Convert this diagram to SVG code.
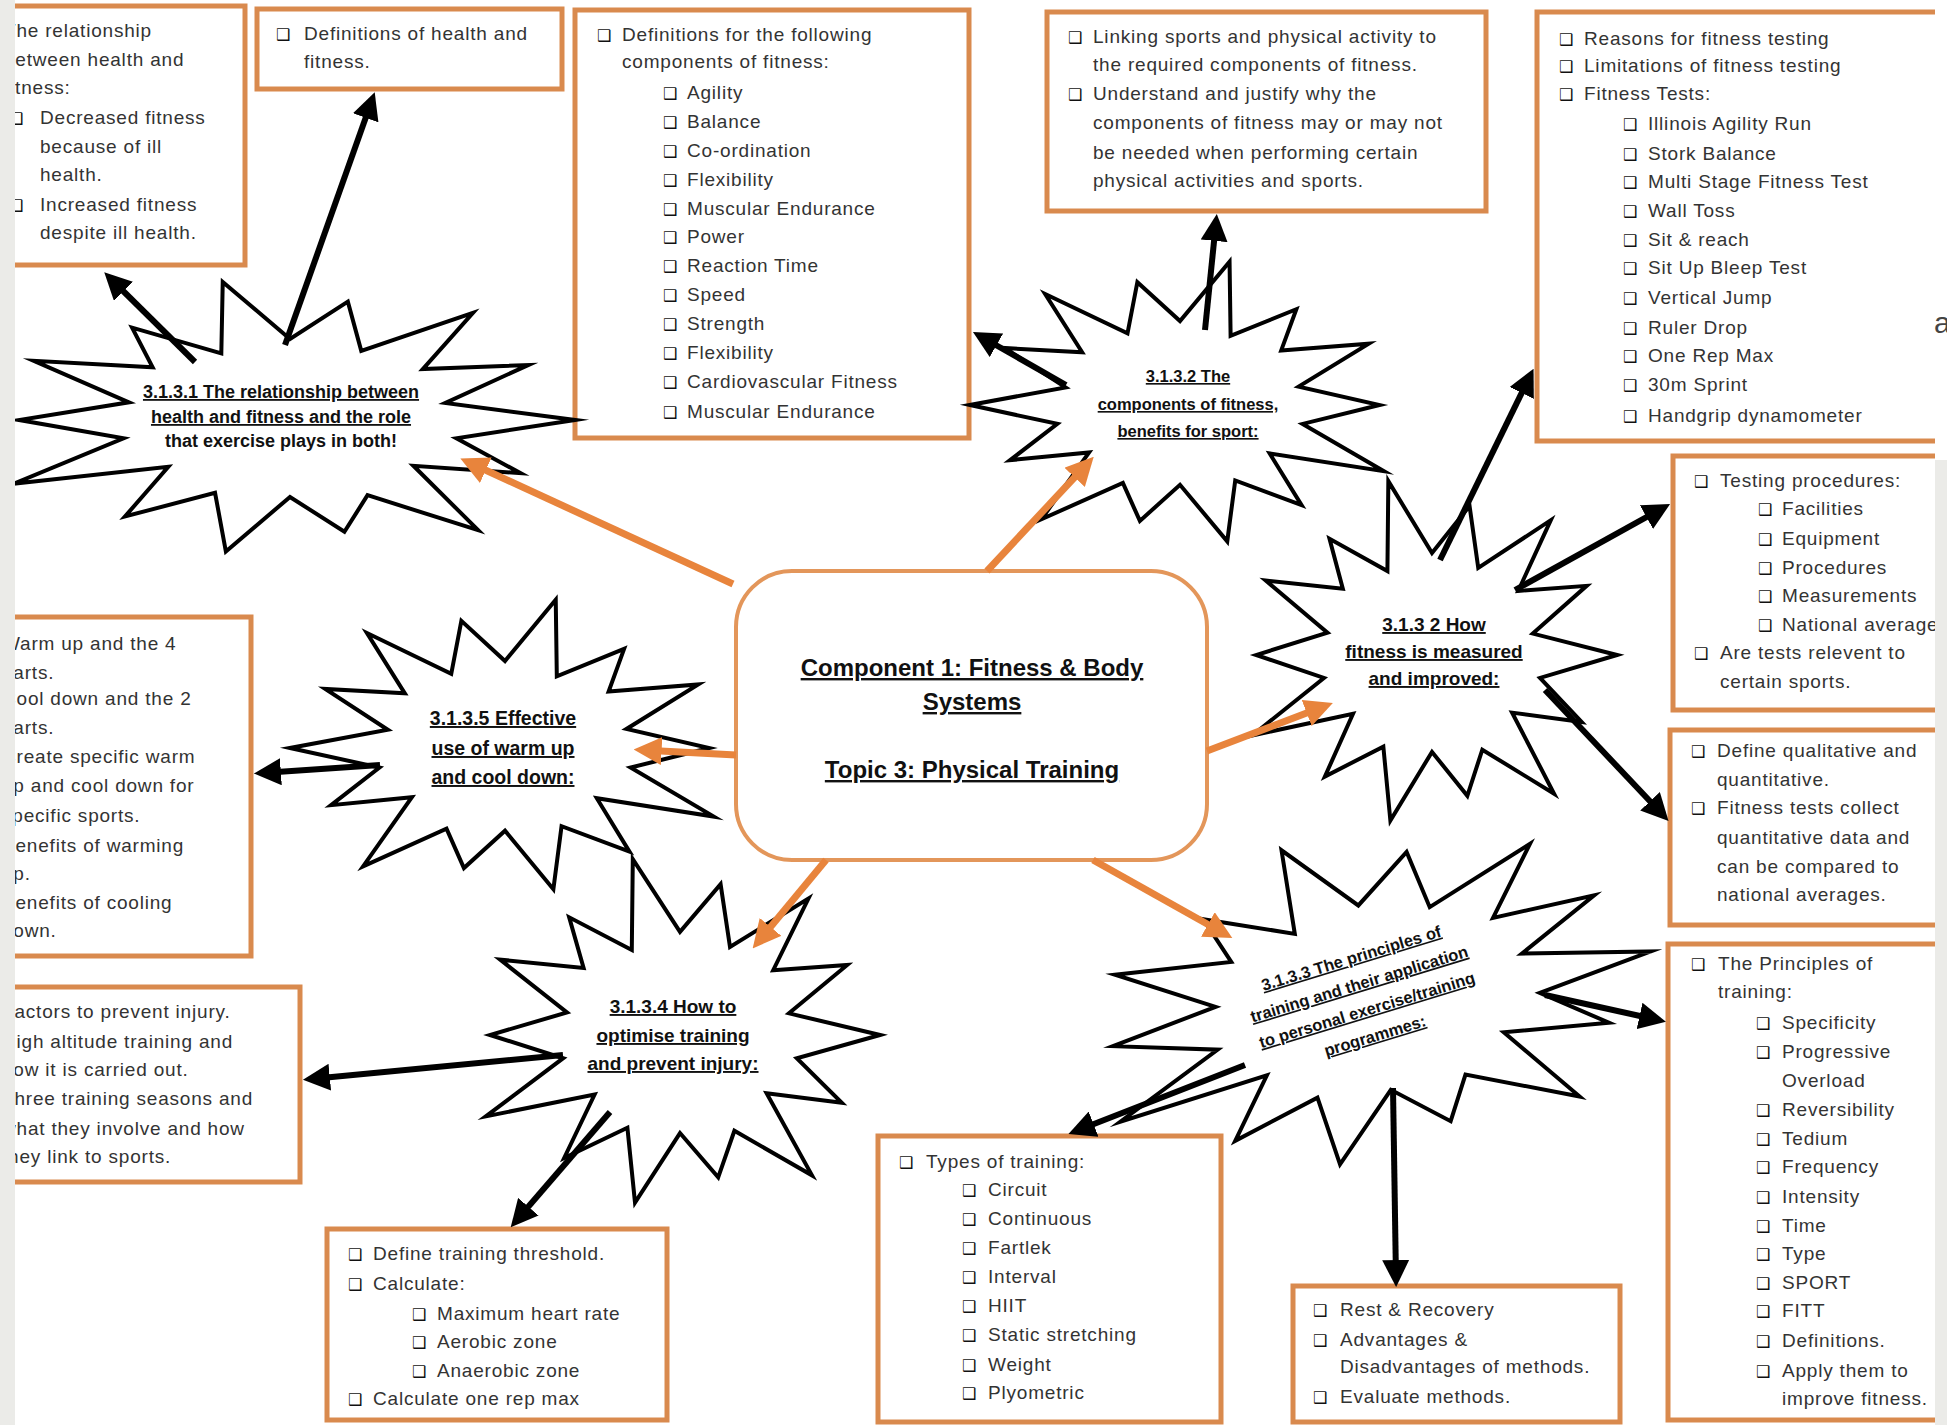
<svg xmlns="http://www.w3.org/2000/svg" xmlns:xlink="http://www.w3.org/1999/xlink" width="1947" height="1425" viewBox="0 0 1947 1425">
<style>
.box{fill:#fff;stroke:#d98a4e;stroke-width:5}
.core{fill:#fff;stroke:#e3965a;stroke-width:4}
.t{font-family:"Liberation Sans",Arial,sans-serif;font-size:19px;letter-spacing:0.8px;fill:#333}
.b{font-family:"DejaVu Sans",sans-serif;font-size:16px;letter-spacing:0;fill:#111}
.star{fill:#fff;stroke:#000;stroke-width:4;stroke-linejoin:miter;stroke-miterlimit:12;vector-effect:non-scaling-stroke}
.st{font-family:"Liberation Sans",Arial,sans-serif;font-weight:bold;fill:#111;text-anchor:middle}
.u{text-decoration:underline}
.ct{font-family:"Liberation Sans",Arial,sans-serif;font-weight:bold;font-size:24px;fill:#111;text-anchor:middle;text-decoration:underline}
.cb{stroke:#000;stroke-width:6;fill:none;marker-end:url(#ahb)}
.co{stroke:#e8843c;stroke-width:7;fill:none;marker-end:url(#aho)}
</style>
<defs>
<polygon id="star" class="star" points="1,0 0.584,0.135 0.809,0.394 0.433,0.339 0.66,0.816 0.272,0.557 0.191,0.828 0,0.57 -0.225,0.974 -0.263,0.539 -0.579,0.715 -0.427,0.346 -0.971,0.473 -0.584,0.135 -0.95,0 -0.565,-0.131 -0.899,-0.438 -0.482,-0.39 -0.554,-0.684 -0.241,-0.494 -0.236,-1.023 0,-0.6 0.203,-0.877 0.25,-0.512 0.642,-0.793 0.466,-0.377 0.836,-0.407 0.545,-0.126"/>
<marker id="ahb" viewBox="0 0 10 10" refX="7" refY="5" markerWidth="4.5" markerHeight="4.5" orient="auto"><path d="M0,0 L10,5 L0,10 z" fill="#000"/></marker>
<marker id="aho" viewBox="0 0 10 10" refX="7" refY="5" markerWidth="4" markerHeight="4" orient="auto"><path d="M0,0 L10,5 L0,10 z" fill="#e8843c"/></marker>
</defs>
<rect x="0" y="0" width="1947" height="1425" fill="#fff"/>

<g id="box-relationship">
<rect class="box" x="-10" y="6" width="255" height="259"/>
<text class="t"><tspan x="4" y="37">The relationship</tspan><tspan x="4" y="66">between health and</tspan><tspan x="4" y="94">fitness:</tspan><tspan class="b" x="9" y="124">❑</tspan><tspan x="40" y="124">Decreased fitness</tspan><tspan x="40" y="153">because of ill</tspan><tspan x="40" y="181">health.</tspan><tspan class="b" x="9" y="211">❑</tspan><tspan x="40" y="211">Increased fitness</tspan><tspan x="40" y="239">despite ill health.</tspan></text>
</g>
<g id="box-definitions">
<rect class="box" x="257" y="9" width="305" height="80"/>
<text class="t"><tspan class="b" x="276" y="40">❑</tspan><tspan x="304" y="40">Definitions of health and</tspan><tspan x="304" y="68">fitness.</tspan></text>
</g>
<g id="box-components">
<rect class="box" x="575" y="10" width="394" height="428"/>
<text class="t"><tspan class="b" x="597" y="41">❑</tspan><tspan x="622" y="41">Definitions for the following</tspan><tspan x="622" y="68">components of fitness:</tspan>
<tspan class="b" x="663" y="99">❑</tspan><tspan x="687" y="99">Agility</tspan>
<tspan class="b" x="663" y="128">❑</tspan><tspan x="687" y="128">Balance</tspan>
<tspan class="b" x="663" y="157">❑</tspan><tspan x="687" y="157">Co-ordination</tspan>
<tspan class="b" x="663" y="186">❑</tspan><tspan x="687" y="186">Flexibility</tspan>
<tspan class="b" x="663" y="215">❑</tspan><tspan x="687" y="215">Muscular Endurance</tspan>
<tspan class="b" x="663" y="243">❑</tspan><tspan x="687" y="243">Power</tspan>
<tspan class="b" x="663" y="272">❑</tspan><tspan x="687" y="272">Reaction Time</tspan>
<tspan class="b" x="663" y="301">❑</tspan><tspan x="687" y="301">Speed</tspan>
<tspan class="b" x="663" y="330">❑</tspan><tspan x="687" y="330">Strength</tspan>
<tspan class="b" x="663" y="359">❑</tspan><tspan x="687" y="359">Flexibility</tspan>
<tspan class="b" x="663" y="388">❑</tspan><tspan x="687" y="388">Cardiovascular Fitness</tspan>
<tspan class="b" x="663" y="418">❑</tspan><tspan x="687" y="418">Muscular Endurance</tspan></text>
</g>
<g id="box-linking">
<rect class="box" x="1047" y="12" width="439" height="199"/>
<text class="t"><tspan class="b" x="1068" y="43">❑</tspan><tspan x="1093" y="43">Linking sports and physical activity to</tspan><tspan x="1093" y="71">the required components of fitness.</tspan><tspan class="b" x="1068" y="100">❑</tspan><tspan x="1093" y="100">Understand and justify why the</tspan><tspan x="1093" y="129">components of fitness may or may not</tspan><tspan x="1093" y="159">be needed when performing certain</tspan><tspan x="1093" y="187">physical activities and sports.</tspan></text>
</g>
<g id="box-tests">
<rect class="box" x="1537" y="12" width="430" height="429"/>
<text class="t"><tspan class="b" x="1559" y="45">❑</tspan><tspan x="1584" y="45">Reasons for fitness testing</tspan>
<tspan class="b" x="1559" y="72">❑</tspan><tspan x="1584" y="72">Limitations of fitness testing</tspan>
<tspan class="b" x="1559" y="100">❑</tspan><tspan x="1584" y="100">Fitness Tests:</tspan>
<tspan class="b" x="1623" y="130">❑</tspan><tspan x="1648" y="130">Illinois Agility Run</tspan>
<tspan class="b" x="1623" y="160">❑</tspan><tspan x="1648" y="160">Stork Balance</tspan>
<tspan class="b" x="1623" y="188">❑</tspan><tspan x="1648" y="188">Multi Stage Fitness Test</tspan>
<tspan class="b" x="1623" y="217">❑</tspan><tspan x="1648" y="217">Wall Toss</tspan>
<tspan class="b" x="1623" y="246">❑</tspan><tspan x="1648" y="246">Sit &amp; reach</tspan>
<tspan class="b" x="1623" y="274">❑</tspan><tspan x="1648" y="274">Sit Up Bleep Test</tspan>
<tspan class="b" x="1623" y="304">❑</tspan><tspan x="1648" y="304">Vertical Jump</tspan>
<tspan class="b" x="1623" y="334">❑</tspan><tspan x="1648" y="334">Ruler Drop</tspan>
<tspan class="b" x="1623" y="362">❑</tspan><tspan x="1648" y="362">One Rep Max</tspan>
<tspan class="b" x="1623" y="391">❑</tspan><tspan x="1648" y="391">30m Sprint</tspan>
<tspan class="b" x="1623" y="422">❑</tspan><tspan x="1648" y="422">Handgrip dynamometer</tspan></text>
</g>
<g id="box-procedures">
<rect class="box" x="1673" y="456" width="290" height="254"/>
<text class="t"><tspan class="b" x="1694" y="487">❑</tspan><tspan x="1720" y="487">Testing procedures:</tspan>
<tspan class="b" x="1758" y="515">❑</tspan><tspan x="1782" y="515">Facilities</tspan>
<tspan class="b" x="1758" y="545">❑</tspan><tspan x="1782" y="545">Equipment</tspan>
<tspan class="b" x="1758" y="574">❑</tspan><tspan x="1782" y="574">Procedures</tspan>
<tspan class="b" x="1758" y="602">❑</tspan><tspan x="1782" y="602">Measurements</tspan>
<tspan class="b" x="1758" y="631">❑</tspan><tspan x="1782" y="631">National averages</tspan>
<tspan class="b" x="1694" y="659">❑</tspan><tspan x="1720" y="659">Are tests relevent to</tspan>
<tspan x="1720" y="688">certain sports.</tspan></text>
</g>
<g id="box-qualitative">
<rect class="box" x="1670" y="730" width="290" height="195"/>
<text class="t"><tspan class="b" x="1691" y="757">❑</tspan><tspan x="1717" y="757">Define qualitative and</tspan><tspan x="1717" y="786">quantitative.</tspan><tspan class="b" x="1691" y="814">❑</tspan><tspan x="1717" y="814">Fitness tests collect</tspan><tspan x="1717" y="844">quantitative data and</tspan><tspan x="1717" y="873">can be compared to</tspan><tspan x="1717" y="901">national averages.</tspan></text>
</g>
<g id="box-principles">
<rect class="box" x="1668" y="944" width="290" height="476"/>
<text class="t"><tspan class="b" x="1691" y="970">❑</tspan><tspan x="1718" y="970">The Principles of</tspan><tspan x="1718" y="998">training:</tspan>
<tspan class="b" x="1756" y="1029">❑</tspan><tspan x="1782" y="1029">Specificity</tspan>
<tspan class="b" x="1756" y="1058">❑</tspan><tspan x="1782" y="1058">Progressive</tspan>
<tspan x="1782" y="1087">Overload</tspan>
<tspan class="b" x="1756" y="1116">❑</tspan><tspan x="1782" y="1116">Reversibility</tspan>
<tspan class="b" x="1756" y="1145">❑</tspan><tspan x="1782" y="1145">Tedium</tspan>
<tspan class="b" x="1756" y="1173">❑</tspan><tspan x="1782" y="1173">Frequency</tspan>
<tspan class="b" x="1756" y="1203">❑</tspan><tspan x="1782" y="1203">Intensity</tspan>
<tspan class="b" x="1756" y="1232">❑</tspan><tspan x="1782" y="1232">Time</tspan>
<tspan class="b" x="1756" y="1260">❑</tspan><tspan x="1782" y="1260">Type</tspan>
<tspan class="b" x="1756" y="1289">❑</tspan><tspan x="1782" y="1289">SPORT</tspan>
<tspan class="b" x="1756" y="1317">❑</tspan><tspan x="1782" y="1317">FITT</tspan>
<tspan class="b" x="1756" y="1347">❑</tspan><tspan x="1782" y="1347">Definitions.</tspan>
<tspan class="b" x="1756" y="1377">❑</tspan><tspan x="1782" y="1377">Apply them to</tspan>
<tspan x="1782" y="1405">improve fitness.</tspan></text>
</g>
<g id="box-warmup">
<rect class="box" x="-10" y="617" width="261" height="339"/>
<text class="t"><tspan x="2" y="650">Warm up and the 4</tspan><tspan x="2" y="679">parts.</tspan><tspan x="2" y="705">Cool down and the 2</tspan><tspan x="2" y="734">parts.</tspan><tspan x="2" y="763">Create specific warm</tspan><tspan x="2" y="792">up and cool down for</tspan><tspan x="2" y="822">specific sports.</tspan><tspan x="2" y="852">Benefits of warming</tspan><tspan x="2" y="880">up.</tspan><tspan x="2" y="909">Benefits of cooling</tspan><tspan x="2" y="937">down.</tspan></text>
</g>
<g id="box-injury">
<rect class="box" x="-10" y="987" width="310" height="195"/>
<text class="t"><tspan x="2" y="1018">Factors to prevent injury.</tspan><tspan x="2" y="1048">High altitude training and</tspan><tspan x="2" y="1076">how it is carried out.</tspan><tspan x="2" y="1105">Three training seasons and</tspan><tspan x="2" y="1135">what they involve and how</tspan><tspan x="2" y="1163">they link to sports.</tspan></text>
</g>
<g id="box-threshold">
<rect class="box" x="327" y="1229" width="340" height="191"/>
<text class="t"><tspan class="b" x="348" y="1260">❑</tspan><tspan x="373" y="1260">Define training threshold.</tspan>
<tspan class="b" x="348" y="1290">❑</tspan><tspan x="373" y="1290">Calculate:</tspan>
<tspan class="b" x="412" y="1320">❑</tspan><tspan x="437" y="1320">Maximum heart rate</tspan>
<tspan class="b" x="412" y="1348">❑</tspan><tspan x="437" y="1348">Aerobic zone</tspan>
<tspan class="b" x="412" y="1377">❑</tspan><tspan x="437" y="1377">Anaerobic zone</tspan>
<tspan class="b" x="348" y="1405">❑</tspan><tspan x="373" y="1405">Calculate one rep max</tspan></text>
</g>
<g id="box-types">
<rect class="box" x="878" y="1136" width="343" height="286"/>
<text class="t"><tspan class="b" x="899" y="1168">❑</tspan><tspan x="926" y="1168">Types of training:</tspan>
<tspan class="b" x="962" y="1196">❑</tspan><tspan x="988" y="1196">Circuit</tspan>
<tspan class="b" x="962" y="1225">❑</tspan><tspan x="988" y="1225">Continuous</tspan>
<tspan class="b" x="962" y="1254">❑</tspan><tspan x="988" y="1254">Fartlek</tspan>
<tspan class="b" x="962" y="1283">❑</tspan><tspan x="988" y="1283">Interval</tspan>
<tspan class="b" x="962" y="1312">❑</tspan><tspan x="988" y="1312">HIIT</tspan>
<tspan class="b" x="962" y="1341">❑</tspan><tspan x="988" y="1341">Static stretching</tspan>
<tspan class="b" x="962" y="1371">❑</tspan><tspan x="988" y="1371">Weight</tspan>
<tspan class="b" x="962" y="1399">❑</tspan><tspan x="988" y="1399">Plyometric</tspan></text>
</g>
<g id="box-rest">
<rect class="box" x="1293" y="1286" width="327" height="136"/>
<text class="t"><tspan class="b" x="1313" y="1316">❑</tspan><tspan x="1340" y="1316">Rest &amp; Recovery</tspan><tspan class="b" x="1313" y="1346">❑</tspan><tspan x="1340" y="1346">Advantages &amp;</tspan><tspan x="1340" y="1373">Disadvantages of methods.</tspan><tspan class="b" x="1313" y="1403">❑</tspan><tspan x="1340" y="1403">Evaluate methods.</tspan></text>
</g>

<g id="center">
<rect class="core" x="736" y="571" width="471" height="289" rx="56"/>
<text class="ct"><tspan x="972" y="676">Component 1: Fitness &amp; Body</tspan><tspan x="972" y="710">Systems</tspan><tspan x="972" y="778">Topic 3: Physical Training</tspan></text>
</g>

<g id="star-3131">
<use xlink:href="#star" transform="translate(290 420) scale(285 135)"/>
<text class="st" font-size="18"><tspan class="u" x="281" y="398">3.1.3.1 The relationship between</tspan><tspan class="u" x="281" y="423">health and fitness and the role</tspan><tspan x="281" y="447">that exercise plays in both!</tspan></text>
</g>
<g id="star-3132a">
<use xlink:href="#star" transform="translate(1180 405) scale(-210 140)"/>
<text class="st u" font-size="16.5"><tspan x="1188" y="382">3.1.3.2 The</tspan><tspan x="1188" y="410">components of fitness,</tspan><tspan x="1188" y="437">benefits for sport:</tspan></text>
</g>
<g id="star-3132b">
<use xlink:href="#star" transform="translate(1432 655) scale(185 170)"/>
<text class="st u" font-size="19"><tspan x="1434" y="631">3.1.3 2 How</tspan><tspan x="1434" y="658">fitness is measured</tspan><tspan x="1434" y="685">and improved:</tspan></text>
</g>
<g id="star-3135">
<use xlink:href="#star" transform="translate(505 748) scale(-215 145)"/>
<text class="st u" font-size="19.5"><tspan x="503" y="725">3.1.3.5 Effective</tspan><tspan x="503" y="755">use of warm up</tspan><tspan x="503" y="784">and cool down:</tspan></text>
</g>
<g id="star-3134">
<use xlink:href="#star" transform="translate(680 1035) scale(200 172)"/>
<text class="st u" font-size="19"><tspan x="673" y="1013">3.1.3.4 How to</tspan><tspan x="673" y="1042">optimise training</tspan><tspan x="673" y="1070">and prevent injury:</tspan></text>
</g>
<g id="star-3133">
<use xlink:href="#star" transform="translate(1375 1000) rotate(-10) scale(280 160)"/>
<text class="st u" font-size="16.5" transform="translate(1364 1000) rotate(-17)"><tspan x="0" y="-38">3.1.3.3 The principles of</tspan><tspan x="0" y="-11">training and their application</tspan><tspan x="0" y="16">to personal exercise/training</tspan><tspan x="0" y="43">programmes:</tspan></text>
</g>

<g id="connectors">
<line class="co" x1="733" y1="584" x2="468" y2="462"/>
<line class="co" x1="987" y1="571" x2="1088" y2="463"/>
<line class="co" x1="1207" y1="751" x2="1325" y2="706"/>
<line class="co" x1="736" y1="755" x2="642" y2="750"/>
<line class="co" x1="826" y1="860" x2="758" y2="942"/>
<line class="co" x1="1093" y1="860" x2="1225" y2="934"/>
<line class="cb" x1="195" y1="362" x2="110" y2="278"/>
<line class="cb" x1="285" y1="345" x2="372" y2="100"/>
<line class="cb" x1="1066" y1="385" x2="980" y2="336"/>
<line class="cb" x1="1205" y1="330" x2="1216" y2="222"/>
<line class="cb" x1="1440" y1="560" x2="1530" y2="376"/>
<line class="cb" x1="1515" y1="590" x2="1663" y2="508"/>
<line class="cb" x1="1545" y1="690" x2="1663" y2="815"/>
<line class="cb" x1="380" y1="765" x2="262" y2="773"/>
<line class="cb" x1="563" y1="1055" x2="311" y2="1079"/>
<line class="cb" x1="610" y1="1112" x2="516" y2="1221"/>
<line class="cb" x1="1245" y1="1065" x2="1076" y2="1131"/>
<line class="cb" x1="1393" y1="1088" x2="1396" y2="1279"/>
<line class="cb" x1="1545" y1="995" x2="1658" y2="1020"/>
</g>

<rect x="0" y="0" width="15" height="1425" fill="#ebebe8"/>
<rect x="1935" y="0" width="12" height="460" fill="#fff"/>
<rect x="1935" y="460" width="12" height="965" fill="#ebebe8"/>
<text x="1934" y="333" font-family="Liberation Sans, Arial, sans-serif" font-size="30" fill="#444">a</text>
</svg>
